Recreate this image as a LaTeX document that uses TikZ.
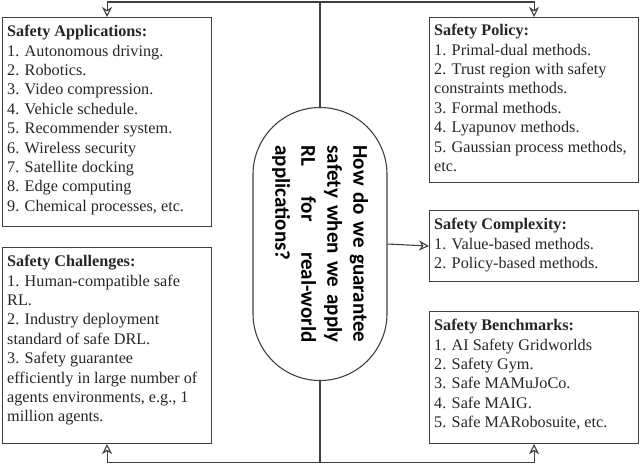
\documentclass[tikz,border=0pt]{standalone}
\usepackage{fontspec}
\usepackage{graphicx}
\setmainfont{Liberation Serif}
\newfontfamily\qfont{Carlito}
\usetikzlibrary{arrows.meta}

\tikzset{
  frame/.style={draw=black!75, line width=1.1pt, inner sep=0pt, anchor=north west,
    minimum width=209pt},
  list/.style={anchor=north west, align=left, inner sep=0pt, text=black!85,
    font=\fontsize{16.2}{19.4}\selectfont},
  link/.style={draw=black!75, line width=1.1pt, -{Stealth[open, length=10pt, width=10pt, inset=3pt]}}
}

\begin{document}
\begin{tikzpicture}[x=1pt, y=-1pt]

\useasboundingbox (0,0) rectangle (640,464);

% Central question
\node[draw=black!75, line width=1.1pt, rounded corners=67pt, minimum width=134pt,
  minimum height=273pt, inner sep=0pt] (question) at (320,244)
  {\rotatebox{-90}{\parbox{197pt}{\qfont\bfseries\fontsize{21}{26}\selectfont
    \makebox[197pt][s]{How do we guarantee}\\
    \makebox[197pt][s]{safety when we apply}\\
    \makebox[197pt][s]{RL for real-world}\\
    applications?}}};

% Left boxes
\node[frame, minimum height=209pt] (app) at (2,17) {};
\node[list] (apptext) at (7,25) {\textbf{Safety Applications:}\\
  1. Autonomous driving.\\
  2. Robotics.\\
  3. Video compression.\\
  4. Vehicle schedule.\\
  5. Recommender system.\\
  6. Wireless security\\
  7. Satellite docking\\
  8. Edge computing\\
  9. Chemical processes, etc.};

\node[frame, minimum height=196pt] (chal) at (2,247) {};
\node[list] (chaltext) at (7,255) {\textbf{Safety Challenges:}\\
  1. Human-compatible safe\\
  RL.\\
  2. Industry deployment\\
  standard of safe DRL.\\
  3. Safety guarantee\\
  efficiently in large number of\\
  agents environments, e.g., 1\\
  million agents.};

% Right boxes
\node[frame, minimum height=165pt] (pol) at (429,17) {};
\node[list] (poltext) at (434,24) {\textbf{Safety Policy:}\\
  1. Primal-dual methods.\\
  2. Trust region with safety\\
  constraints methods.\\
  3. Formal methods.\\
  4. Lyapunov methods.\\
  5. Gaussian process methods,\\
  etc.};

\node[frame, minimum height=71pt] (comp) at (429,210) {};
\node[list] (comptext) at (434,218) {\textbf{Safety Complexity:}\\
  1. Value-based methods.\\
  2. Policy-based methods.};

\node[frame, minimum height=132pt] (bench) at (429,311) {};
\node[list] (benchtext) at (434,319) {\textbf{Safety Benchmarks:}\\
  1. AI Safety Gridworlds\\
  2. Safety Gym.\\
  3. Safe MAMuJoCo.\\
  4. Safe MAIG.\\
  5. Safe MARobosuite, etc.};

% Connectors
\coordinate (top) at (320,2);
\coordinate (bot) at (320,462.5);
\draw[link] (question.north) -- (top) -| (app.north);
\draw[link] (top) -| (pol.north);
\draw[link] (question.south) -- (bot) -| (chal.south);
\draw[link] (bot) -| (bench.south);
\draw[link] (question.east) -- (comp.west);

\end{tikzpicture}
\end{document}
